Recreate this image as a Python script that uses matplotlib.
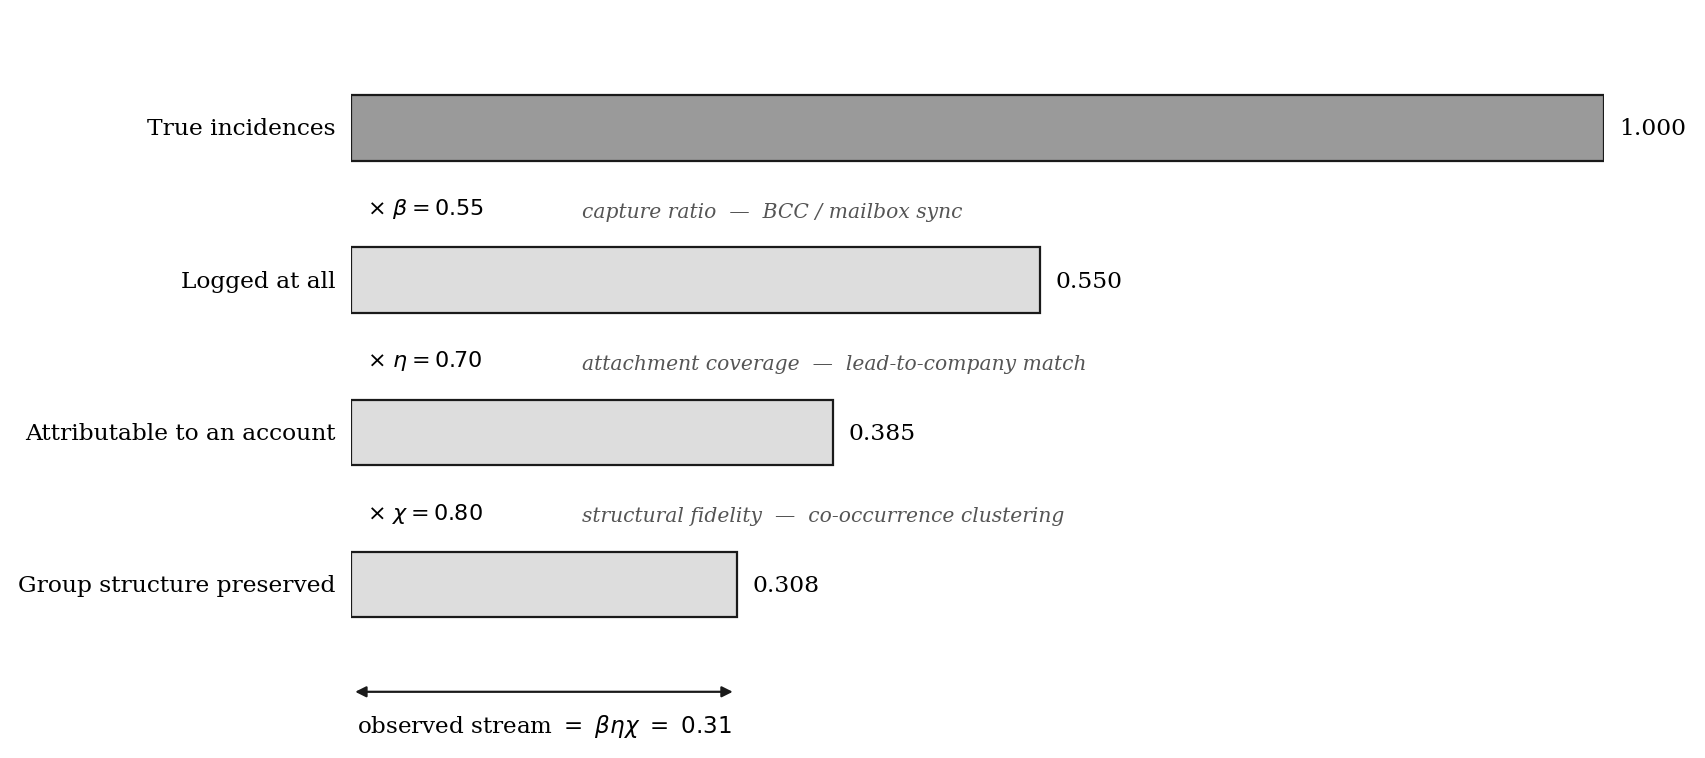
import numpy as np
import matplotlib
matplotlib.use('Agg')
import matplotlib.pyplot as plt

plt.rcParams['font.family'] = 'DejaVu Serif'
plt.rcParams['mathtext.fontset'] = 'dejavusans'

# stages of the funnel
stages = ['True incidences', 'Logged at all', 'Attributable to an account', 'Group structure preserved']
fractions = [1.000, 0.550, 0.385, 0.308]
bar_colors = ['#9a9a9a', '#dddddd', '#dddddd', '#dddddd']

# multiplicative factors between stages
factor_syms = [r'\beta', r'\eta', r'\chi']
factor_vals = [0.55, 0.70, 0.80]
factor_desc = ['capture ratio  —  BCC / mailbox sync',
               'attachment coverage  —  lead-to-company match',
               'structural fidelity  —  co-occurrence clustering']
observed = 0.31

fig = plt.figure(figsize=(17.05, 7.58), dpi=100)
ax = fig.add_axes([351/1705, 1 - 736.7/758, 1253/1705, (736.7 - 51.7)/758])

y = np.arange(len(stages))
ax.barh(y, fractions, height=0.43, color=bar_colors, edgecolor='#1a1a1a', linewidth=1.6)
ax.set_xlim(0, 1.0)
ax.set_ylim(4.0, -0.5)

for yi, lbl, v in zip(y, stages, fractions):
    ax.text(-0.0125, yi + 0.01, lbl, ha='right', va='center', fontsize=16.8)
    ax.annotate(f'{v:.3f}', xy=(v, yi + 0.01), xytext=(11, 0), textcoords='offset points',
                ha='left', va='center', fontsize=16.8)

for i, (s, fv, d) in enumerate(zip(factor_syms, factor_vals, factor_desc)):
    ax.text(0.0124, i + 0.535, rf'$\times\ {s} = {fv:.2f}$', ha='left', va='center', fontsize=16)
    ax.text(0.184, i + 0.555, d, ha='left', va='center', fontsize=14.6,
            style='italic', color='#555555')

# observed stream bracket
ya = 3.705
ax.annotate('', xy=(fractions[-1], ya), xytext=(0, ya),
            arrowprops=dict(arrowstyle='<|-|>', lw=1.6, color='#1a1a1a',
                            shrinkA=3, shrinkB=3, mutation_scale=16),
            annotation_clip=False)
ax.text(fractions[-1] / 2, 3.93, r'observed stream $=\ \beta\eta\chi\ =\ %.2f$' % observed,
        ha='center', va='center', fontsize=16.6, clip_on=False)

ax.axis('off')
fig.savefig('out.png', dpi=100)
